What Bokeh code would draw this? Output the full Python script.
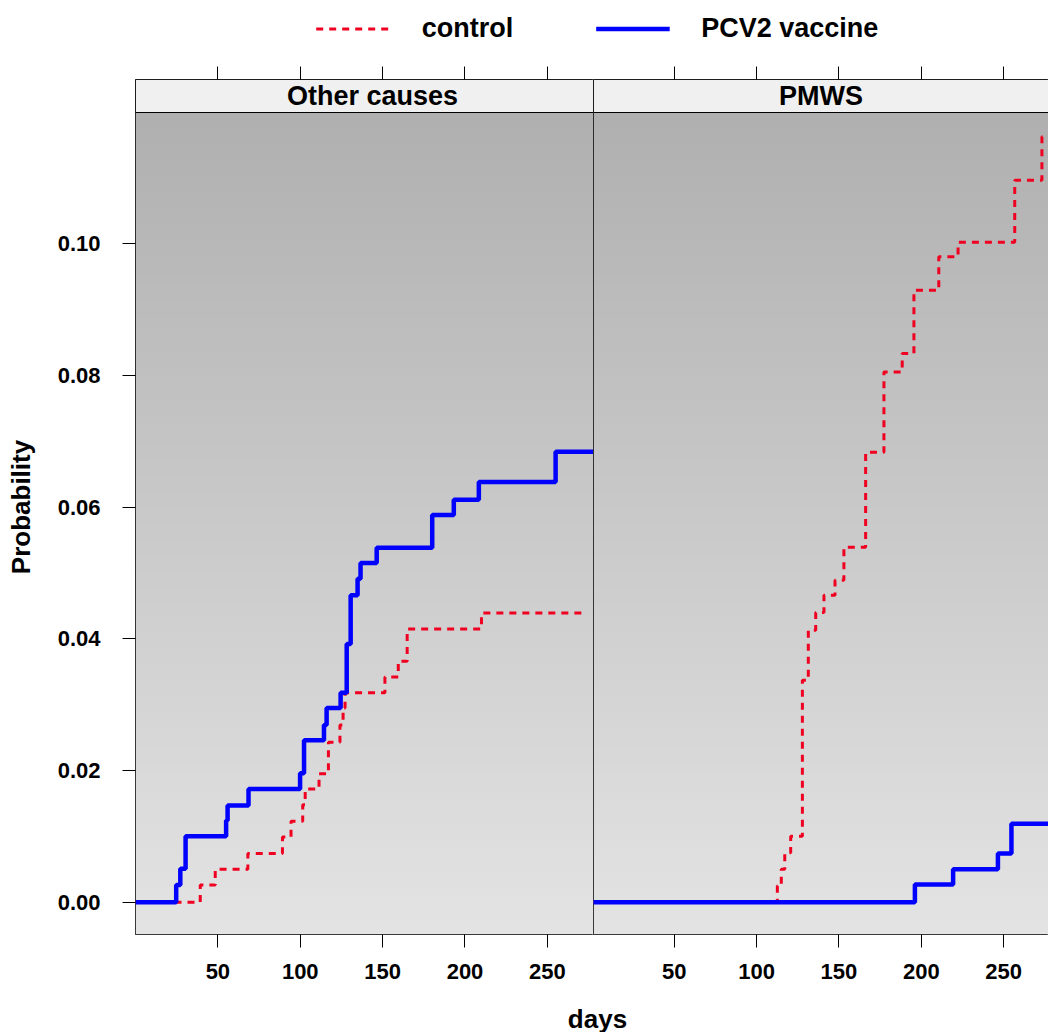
import numpy as np
from bokeh.plotting import figure
from bokeh.models import Range1d, FixedTicker, PrintfTickFormatter, LinearAxis, Label, Legend, LegendItem
from bokeh.layouts import column, row
from bokeh.embed import file_html
from bokeh.resources import INLINE

# ---------------- data ----------------
PANELS = ["Other causes", "PMWS"]
GROUPS = ["control", "PCV2 vaccine"]
X_TICKS = [50, 100, 150, 200, 250]
Y_TICKS = [0.00, 0.02, 0.04, 0.06, 0.08, 0.10]

other_control_days = [0, 39.3, 48.4, 68.2, 89.2, 94.4, 101.5, 103.0, 111.4, 117.1, 124.1, 126.0,
                      127.2, 151.4, 159.5, 164.9, 210.0, 273.0]
other_control_prob = [0.0, 0.0026, 0.0050, 0.0074, 0.0099, 0.0123, 0.0148, 0.0172, 0.0195, 0.0243,
                      0.0269, 0.0295, 0.0318, 0.0342, 0.0366, 0.0415, 0.0439, 0.0439]

other_vaccine_days = [0, 24.7, 27.2, 30.4, 55.0, 55.9, 68.6, 99.9, 102.3, 114.4, 116.0, 124.5, 128.2,
                      130.6, 134.8, 136.6, 146.4, 180.1, 193.2, 208.4, 255.0, 278.0]
other_vaccine_prob = [0.0, 0.0026, 0.0051, 0.0100, 0.0124, 0.0147, 0.0172, 0.0196, 0.0246, 0.0269,
                      0.0295, 0.0318, 0.0392, 0.0466, 0.0491, 0.0515, 0.0538, 0.0588, 0.0611, 0.0638,
                      0.0684, 0.0684]

pmws_control_days = [0, 112.6, 115.0, 117.1, 120.7, 127.8, 131.4, 135.9, 140.9, 147.6, 153.0, 166.2,
                     177.3, 188.4, 195.5, 210.6, 222.3, 256.7, 273.2, 278.0]
pmws_control_prob = [0.0, 0.0025, 0.0050, 0.0075, 0.0100, 0.0337, 0.0413, 0.0440, 0.0466, 0.0489,
                     0.0539, 0.0683, 0.0805, 0.0833, 0.0929, 0.0980, 0.1002, 0.1096, 0.1162, 0.1162]

pmws_vaccine_days = [0, 196.1, 219.3, 246.5, 254.7, 278.0]
pmws_vaccine_prob = [0.0, 0.0027, 0.0050, 0.0074, 0.0119, 0.0119]

# ---------------- style / layout constants ----------------
FONT = "Liberation Sans"
RED = "#f00020"
BLUE = "#0000ff"
X_LEFT = (0, 278)
X_RIGHT = (1, 277.2)
YLO, YHI = -0.0049, 0.1199
FRAME_W1 = 458
FRAME_W2 = 455
FRAME_H = 855
STRIP_PX = 33
YTOP = YHI + (YHI - YLO) * STRIP_PX / (FRAME_H - STRIP_PX)
LEFT_B = 135
TOP_B = 23
BOT_B = 58
TOTAL_W = LEFT_B + FRAME_W1 + FRAME_W2
LEG_H = 56
FIG_H = TOP_B + FRAME_H + BOT_B
DAYS_H = 1032 - LEG_H - FIG_H

# vertical gray gradient for panel background
N = 256
g = np.linspace(0xE4, 0xB0, N).astype(np.uint8)
grad = np.empty((N, 1), dtype=np.uint32)
view = grad.view(dtype=np.uint8).reshape((N, 1, 4))
view[:, 0, 0] = g
view[:, 0, 1] = g
view[:, 0, 2] = g
view[:, 0, 3] = 255


def style_ticks(ax):
    ax.axis_line_color = None
    ax.major_tick_line_color = "black"
    ax.major_tick_line_width = 1
    ax.major_tick_in = 0
    ax.major_tick_out = 13
    ax.minor_tick_line_color = None


def make_panel(name, c_days, c_prob, v_days, v_prob, left):
    xr = X_LEFT if left else X_RIGHT
    p = figure(width=(LEFT_B + FRAME_W1) if left else FRAME_W2, height=FIG_H,
               x_range=Range1d(*xr), y_range=Range1d(YLO, YTOP),
               output_backend="svg", toolbar_location=None,
               x_axis_location="below", y_axis_location="left" if left else None,
               min_border_left=LEFT_B if left else 0, min_border_right=0,
               min_border_top=TOP_B, min_border_bottom=BOT_B)
    p.grid.visible = False
    p.outline_line_color = "black"
    p.outline_line_width = 1
    p.background_fill_color = "white"
    p.border_fill_color = "white"

    p.image_rgba(image=[grad], x=xr[0], y=YLO, dw=xr[1] - xr[0], dh=YHI - YLO)
    p.quad(left=[xr[0]], right=[xr[1]], bottom=[YHI], top=[YTOP],
           fill_color="#f0f0f0", line_color="black", line_width=1)
    p.add_layout(Label(x=(xr[0] + xr[1]) / 2, y=(YHI + YTOP) / 2, text=name,
                       x_offset=8 if left else 0,
                       text_align="center", text_baseline="middle",
                       text_font=FONT, text_font_style="bold", text_font_size="27px",
                       text_color="black"))

    p.step(x=c_days, y=c_prob, mode="after", line_color=RED, line_width=3, line_dash="7 6")
    p.step(x=v_days, y=v_prob, mode="after", line_color=BLUE, line_width=4.5)

    xa = p.xaxis[0]
    xa.ticker = FixedTicker(ticks=X_TICKS)
    style_ticks(xa)
    xa.major_label_text_font = FONT
    xa.major_label_text_font_style = "bold"
    xa.major_label_text_font_size = "22px"
    xa.major_label_text_color = "black"
    xa.major_label_standoff = 16

    top = LinearAxis(ticker=FixedTicker(ticks=X_TICKS))
    style_ticks(top)
    top.major_label_text_color = None
    top.major_label_text_font_size = "1px"
    top.major_label_standoff = 0
    p.add_layout(top, "above")

    if left:
        ya = p.yaxis[0]
        ya.ticker = FixedTicker(ticks=Y_TICKS)
        ya.formatter = PrintfTickFormatter(format="%.2f")
        style_ticks(ya)
        ya.major_label_text_font = FONT
        ya.major_label_text_font_style = "bold"
        ya.major_label_text_font_size = "22px"
        ya.major_label_text_color = "black"
        ya.major_label_standoff = 22
        ya.axis_label = "Probability"
        ya.axis_label_text_font = FONT
        ya.axis_label_text_font_style = "bold"
        ya.axis_label_text_font_size = "26px"
        ya.axis_label_text_color = "black"
        ya.axis_label_standoff = 19
    return p


p1 = make_panel(PANELS[0], other_control_days, other_control_prob,
                other_vaccine_days, other_vaccine_prob, True)
p2 = make_panel(PANELS[1], pmws_control_days, pmws_control_prob,
                pmws_vaccine_days, pmws_vaccine_prob, False)

# legend on top
leg = figure(width=TOTAL_W, height=LEG_H, x_range=Range1d(0, 1), y_range=Range1d(0, 1),
             output_backend="svg", toolbar_location=None,
             x_axis_location=None, y_axis_location=None,
             min_border_left=2 * 597 - TOTAL_W, min_border_right=0,
             min_border_top=0, min_border_bottom=0)
leg.grid.visible = False
leg.outline_line_color = None
r_c = leg.line(x=[np.nan], y=[np.nan], line_color=RED, line_width=3, line_dash="7 6")
r_v = leg.line(x=[np.nan], y=[np.nan], line_color=BLUE, line_width=4.5)
legend = Legend(items=[LegendItem(label=GROUPS[0], renderers=[r_c]),
                       LegendItem(label=GROUPS[1], renderers=[r_v])],
                orientation="horizontal", location="center",
                glyph_width=74, glyph_height=20, label_standoff=32, spacing=82,
                padding=0, margin=0, border_line_color=None, background_fill_alpha=0,
                label_text_font=FONT, label_text_font_style="bold",
                label_text_font_size="27px", label_text_color="black")
leg.add_layout(legend, "center")

# x label at the bottom
days = figure(width=TOTAL_W, height=DAYS_H, x_range=Range1d(0, 1), y_range=Range1d(0, 1),
              output_backend="svg", toolbar_location=None,
              x_axis_location=None, y_axis_location=None,
              min_border_left=2 * 592 - TOTAL_W, min_border_right=0,
              min_border_top=0, min_border_bottom=0)
days.grid.visible = False
days.outline_line_color = None
days.add_layout(Label(x=0.5, y=0.35, text="days", text_align="center", text_baseline="middle",
                      text_font=FONT, text_font_style="bold", text_font_size="26px",
                      text_color="black"))

layout = column(leg, row(p1, p2), days)
open("out.html", "w").write(file_html(layout, INLINE))
